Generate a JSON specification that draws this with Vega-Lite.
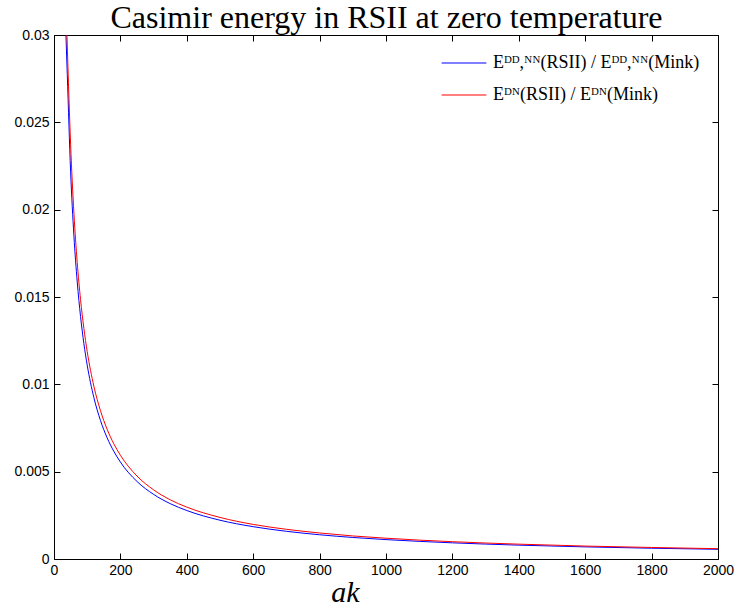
{
  "$schema": "https://vega.github.io/schema/vega-lite/v6.json",
  "width": 664,
  "height": 524,
  "autosize": {"type": "none"},
  "padding": {"left": 54, "top": 35, "right": 21, "bottom": 50},
  "background": "white",
  "config": {
    "view": {"stroke": "black", "strokeWidth": 1},
    "axis": {
      "domain": false,
      "grid": false,
      "tickColor": "black",
      "tickSize": -6,
      "tickWidth": 1,
      "labelFlush": false,
      "labelFont": "Liberation Sans",
      "labelFontSize": 14,
      "labelColor": "black"
    }
  },
  "data": {
    "values": [
      {"ak": 36, "v": 0.0300, "s": "DD,NN"},
      {"ak": 40, "v": 0.02775, "s": "DD,NN"},
      {"ak": 50, "v": 0.0222, "s": "DD,NN"},
      {"ak": 60, "v": 0.0185, "s": "DD,NN"},
      {"ak": 70, "v": 0.01586, "s": "DD,NN"},
      {"ak": 80, "v": 0.01388, "s": "DD,NN"},
      {"ak": 90, "v": 0.01233, "s": "DD,NN"},
      {"ak": 100, "v": 0.0111, "s": "DD,NN"},
      {"ak": 120, "v": 0.00925, "s": "DD,NN"},
      {"ak": 140, "v": 0.00793, "s": "DD,NN"},
      {"ak": 160, "v": 0.00694, "s": "DD,NN"},
      {"ak": 180, "v": 0.00617, "s": "DD,NN"},
      {"ak": 200, "v": 0.00555, "s": "DD,NN"},
      {"ak": 250, "v": 0.00444, "s": "DD,NN"},
      {"ak": 300, "v": 0.0037, "s": "DD,NN"},
      {"ak": 350, "v": 0.00317, "s": "DD,NN"},
      {"ak": 400, "v": 0.002775, "s": "DD,NN"},
      {"ak": 500, "v": 0.00222, "s": "DD,NN"},
      {"ak": 600, "v": 0.00185, "s": "DD,NN"},
      {"ak": 700, "v": 0.001586, "s": "DD,NN"},
      {"ak": 800, "v": 0.001388, "s": "DD,NN"},
      {"ak": 900, "v": 0.001233, "s": "DD,NN"},
      {"ak": 1000, "v": 0.00111, "s": "DD,NN"},
      {"ak": 1200, "v": 0.000925, "s": "DD,NN"},
      {"ak": 1400, "v": 0.000793, "s": "DD,NN"},
      {"ak": 1600, "v": 0.000694, "s": "DD,NN"},
      {"ak": 1800, "v": 0.000617, "s": "DD,NN"},
      {"ak": 2000, "v": 0.000555, "s": "DD,NN"},
      {"ak": 39, "v": 0.0300, "s": "DN"},
      {"ak": 45, "v": 0.0264, "s": "DN"},
      {"ak": 50, "v": 0.02375, "s": "DN"},
      {"ak": 60, "v": 0.0198, "s": "DN"},
      {"ak": 70, "v": 0.01697, "s": "DN"},
      {"ak": 80, "v": 0.01485, "s": "DN"},
      {"ak": 90, "v": 0.0132, "s": "DN"},
      {"ak": 100, "v": 0.01188, "s": "DN"},
      {"ak": 120, "v": 0.0099, "s": "DN"},
      {"ak": 140, "v": 0.00849, "s": "DN"},
      {"ak": 160, "v": 0.00743, "s": "DN"},
      {"ak": 180, "v": 0.0066, "s": "DN"},
      {"ak": 200, "v": 0.00594, "s": "DN"},
      {"ak": 250, "v": 0.00475, "s": "DN"},
      {"ak": 300, "v": 0.00396, "s": "DN"},
      {"ak": 350, "v": 0.00339, "s": "DN"},
      {"ak": 400, "v": 0.00297, "s": "DN"},
      {"ak": 500, "v": 0.00238, "s": "DN"},
      {"ak": 600, "v": 0.00198, "s": "DN"},
      {"ak": 700, "v": 0.0017, "s": "DN"},
      {"ak": 800, "v": 0.00149, "s": "DN"},
      {"ak": 900, "v": 0.00132, "s": "DN"},
      {"ak": 1000, "v": 0.00119, "s": "DN"},
      {"ak": 1200, "v": 0.00099, "s": "DN"},
      {"ak": 1400, "v": 0.00085, "s": "DN"},
      {"ak": 1600, "v": 0.00074, "s": "DN"},
      {"ak": 1800, "v": 0.00066, "s": "DN"},
      {"ak": 2000, "v": 0.00059, "s": "DN"}
    ]
  },
  "layer": [
    {
      "mark": {"type": "line", "clip": true, "strokeWidth": 1, "interpolate": "monotone"},
      "encoding": {
        "x": {
          "field": "ak", "type": "quantitative",
          "scale": {"domain": [0, 2000], "nice": false, "zero": false},
          "axis": {
            "orient": "bottom",
            "values": [0, 200, 400, 600, 800, 1000, 1200, 1400, 1600, 1800, 2000],
            "format": "d",
            "labelPadding": 10,
            "title": "ak",
            "titleFont": "Liberation Serif",
            "titleFontStyle": "italic",
            "titleFontWeight": "normal",
            "titleFontSize": 30,
            "titleColor": "black",
            "titleBaseline": "alphabetic",
            "titleAlign": "center",
            "titleAnchor": "start",
            "titleX": 291,
            "titleY": 42
          }
        },
        "y": {
          "field": "v", "type": "quantitative",
          "scale": {"domain": [0, 0.03], "nice": false, "zero": false},
          "axis": {
            "orient": "left",
            "values": [0, 0.005, 0.01, 0.015, 0.02, 0.025, 0.03],
            "labelExpr": "datum.value == 0 ? '0' : format(datum.value, '.3~f')",
            "labelPadding": 11,
            "title": null
          }
        },
        "color": {
          "field": "s", "type": "nominal",
          "scale": {"domain": ["DD,NN", "DN"], "range": ["#0000ff", "#ff0000"]},
          "legend": {
            "title": null,
            "orient": "none",
            "legendX": 387,
            "legendY": 5,
            "symbolType": "stroke",
            "symbolSize": 2000,
            "symbolStrokeWidth": 1,
            "labelFont": "Liberation Serif",
            "labelFontSize": 18,
            "labelColor": "black",
            "labelLimit": 400,
            "rowPadding": -3,
            "labelOffset": 6,
            "labelExpr": "datum.value == 'DN' ? 'Eᴰᴺ(RSII) / Eᴰᴺ(Mink)' : 'Eᴰᴰ,ᴺᴺ(RSII) / Eᴰᴰ,ᴺᴺ(Mink)'"
          }
        }
      }
    },
    {
      "mark": {"type": "line", "clip": true, "strokeOpacity": 0},
      "encoding": {
        "x": {
          "field": "ak", "type": "quantitative",
          "axis": {
            "orient": "top",
            "values": [0, 200, 400, 600, 800, 1000, 1200, 1400, 1600, 1800, 2000],
            "labels": false,
            "title": "Casimir energy in RSII at zero temperature",
            "titleFont": "Liberation Serif",
            "titleFontSize": 32,
            "titleFontWeight": "normal",
            "titleColor": "black",
            "titleBaseline": "alphabetic",
            "titleAlign": "center",
            "titleAnchor": "start",
            "titleX": 332,
            "titleY": -8
          }
        },
        "y": {
          "field": "v", "type": "quantitative",
          "axis": {
            "orient": "right",
            "values": [0, 0.005, 0.01, 0.015, 0.02, 0.025, 0.03],
            "labels": false,
            "title": null
          }
        },
        "detail": {"field": "s"}
      }
    }
  ],
  "resolve": {"axis": {"x": "independent", "y": "independent"}}
}
